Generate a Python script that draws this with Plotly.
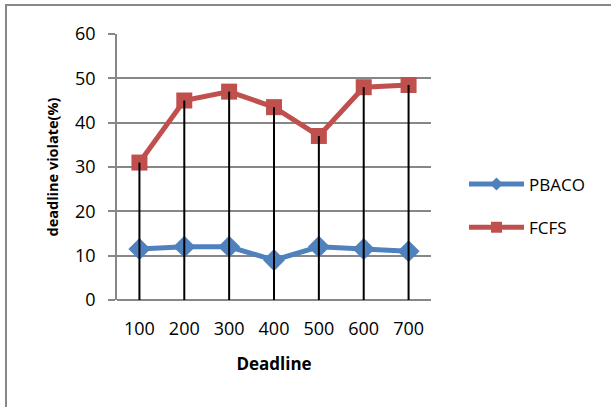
import plotly.graph_objects as go

categories = ["100", "200", "300", "400", "500", "600", "700"]
pbaco = [11.5, 12, 12, 9, 12, 11.5, 11]
fcfs = [31, 45, 47, 43.5, 37, 48, 48.5]

W, H = 611, 407
L, R, T, B = 117, 180, 34, 107
PW, PH = W - L - R, H - T - B

BLUE, RED = "#4F81BD", "#C0504D"
GRID = "#878787"

fig = go.Figure()
fig.add_trace(go.Scatter(
    x=categories, y=pbaco, name="PBACO", mode="lines+markers", showlegend=False,
    line=dict(color=BLUE, width=5),
    marker=dict(symbol="diamond", size=17, color=BLUE),
))
fig.add_trace(go.Scatter(
    x=categories, y=fcfs, name="FCFS", mode="lines+markers", showlegend=False,
    line=dict(color=RED, width=5),
    marker=dict(symbol="square", size=16, color=RED),
))
# drop lines
dx, dy = [], []
for c, v in zip(categories, fcfs):
    dx += [c, c, None]
    dy += [0, v, None]
fig.add_trace(go.Scatter(
    x=dx, y=dy, mode="lines", showlegend=False, hoverinfo="skip",
    line=dict(color="black", width=2),
))
# legend entries (smaller legend markers as in the reference)
fig.add_trace(go.Scatter(
    x=[None], y=[None], name="PBACO", mode="lines+markers", legendgroup="a",
    line=dict(color=BLUE, width=5), marker=dict(symbol="diamond", size=10, color=BLUE),
))
fig.add_trace(go.Scatter(
    x=[None], y=[None], name="FCFS", mode="lines+markers", legendgroup="b",
    line=dict(color=RED, width=5), marker=dict(symbol="square", size=11, color=RED),
))

fig.update_layout(
    width=W, height=H,
    margin=dict(l=L, r=R, t=T, b=B, autoexpand=False),
    paper_bgcolor="white", plot_bgcolor="white",
    font=dict(family="Open Sans, Liberation Sans, sans-serif", color="black"),
    showlegend=True,
    legend=dict(x=(464 - L) / PW, y=(H - B - 206) / PH, xanchor="left", yanchor="middle",
                font=dict(size=17), itemwidth=55, tracegroupgap=18,
                bgcolor="rgba(0,0,0,0)"),
    xaxis=dict(
        type="category", range=[-0.5, 6.5], automargin=False,
        showgrid=False, showline=False, ticks="",
        tickfont=dict(size=18), ticklabelstandoff=16,
        title=dict(text="<b>Deadline</b>", font=dict(size=17), standoff=19),
        zeroline=False,
    ),
    yaxis=dict(
        range=[0, 60], dtick=10, tick0=0, automargin=False,
        showgrid=True, gridcolor=GRID, gridwidth=1.8,
        showline=True, linecolor=GRID, linewidth=1.8,
        ticks="outside", ticklen=7, tickcolor=GRID, tickwidth=1.8,
        tickfont=dict(size=18), ticklabelstandoff=9,
        title=dict(text="<b>deadline violate(%)</b>", font=dict(size=14.5), standoff=13),
        zeroline=True, zerolinecolor=GRID, zerolinewidth=1.8,
    ),
    shapes=[
        dict(type="rect", xref="paper", yref="paper",
             x0=-(L - 6) / PW, x1=1 + (R + 10) / PW,
             y0=-(B + 10) / PH, y1=1 + (T - 5) / PH,
             line=dict(color="#888888", width=2), layer="below"),
        dict(type="line", xref="paper", yref="y",
             x0=-8 / PW, x1=0, y0=0, y1=0,
             line=dict(color=GRID, width=1.8)),
    ],
)

fig.write_html("out.html", config={"displayModeBar": False},
               post_script="document.body.style.margin='0';")
